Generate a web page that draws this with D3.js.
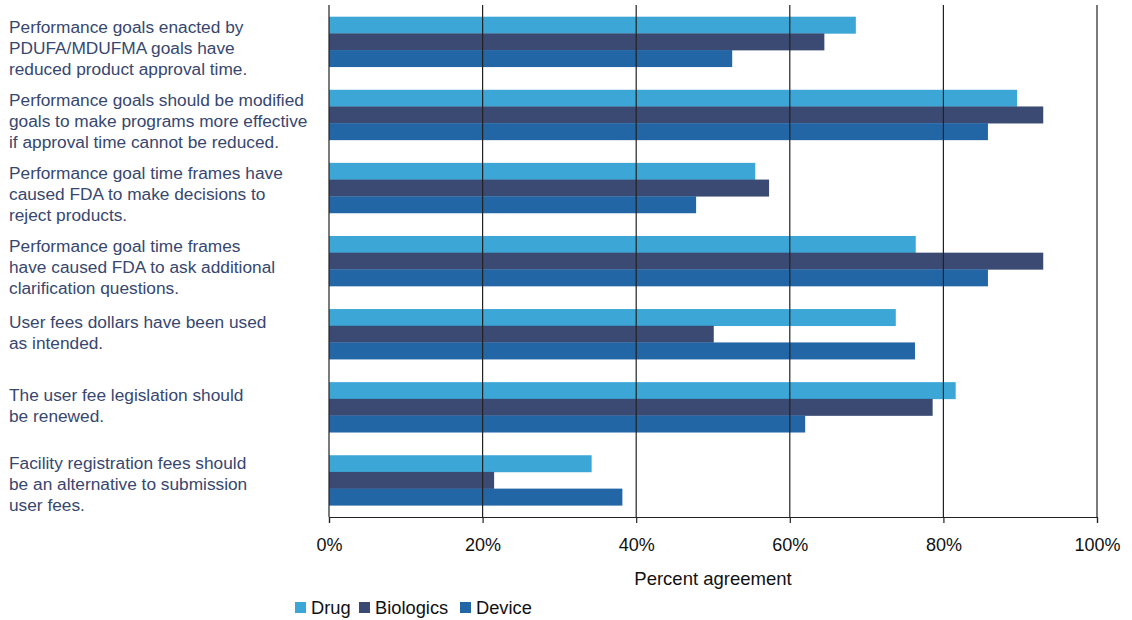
<!DOCTYPE html>
<meta charset="utf-8">
<style>
body { margin: 0; background: #fff; }
text { font-family: "Liberation Sans", Arial, sans-serif; }
.cat text { fill: #37476f; font-size: 17.3px; }
.legend text { fill: #111; font-size: 18.3px; }
</style>
<svg width="1132" height="620"></svg>
<script src="https://cdn.jsdelivr.net/npm/d3@7/dist/d3.min.js"></script>
<script>

var categories = [
  ["Performance goals enacted by", "PDUFA/MDUFMA goals have", "reduced product approval time."],
  ["Performance goals should be modified", "goals to make programs more effective", "if approval time cannot be reduced."],
  ["Performance goal time frames have", "caused FDA to make decisions to", "reject products."],
  ["Performance goal time frames", "have caused FDA to ask additional", "clarification questions."],
  ["User fees dollars have been used", "as intended."],
  ["The user fee legislation should", "be renewed."],
  ["Facility registration fees should", "be an alternative to submission", "user fees."]
];

var seriesNames = ["Drug", "Biologics", "Device"];
var drug      = [68.6, 89.6, 55.5, 76.4, 73.8, 81.6, 34.2];
var biologics = [64.5, 93.0, 57.3, 93.0, 50.1, 78.6, 21.5];
var device    = [52.5, 85.8, 47.8, 85.8, 76.3, 62.0, 38.2];
var ticks = [0, 20, 40, 60, 80, 100];
var colors = ["#3ca7d6", "#3a4a72", "#2366a6"];

var series = [drug, biologics, device];

var svg = d3.select("svg"),
    plotLeft = 329, plotRight = 1097, plotTop = 5, plotBottom = 517;

var x = d3.scaleLinear().domain([0, 100]).range([plotLeft, plotRight]);

var y = d3.scaleBand()
    .domain(d3.range(categories.length))
    .range([plotTop, plotBottom])
    .paddingInner(0.315)
    .paddingOuter(0.16);

var ySub = d3.scaleBand()
    .domain(d3.range(seriesNames.length))
    .range([0, y.bandwidth()]);

// bars
svg.append("g").selectAll("g")
    .data(series)
  .enter().append("g")
    .attr("fill", function(d, i) { return colors[i]; })
  .selectAll("rect")
    .data(function(d, i) { return d.map(function(v, j) { return {v: v, j: j, s: i}; }); })
  .enter().append("rect")
    .attr("x", x(0))
    .attr("y", function(d) { return y(d.j) + ySub(d.s); })
    .attr("width", function(d) { return x(d.v) - x(0); })
    .attr("height", ySub.bandwidth() + 0.3);

// grid lines
svg.append("g").selectAll("line")
    .data(ticks)
  .enter().append("line")
    .attr("x1", function(d) { return x(d); })
    .attr("x2", function(d) { return x(d); })
    .attr("y1", plotTop)
    .attr("y2", plotBottom)
    .attr("stroke", "#222")
    .attr("stroke-width", 1.2);

// x axis
var axis = svg.append("g")
    .attr("transform", "translate(0," + plotBottom + ")")
    .call(d3.axisBottom(x).tickValues(ticks).tickSize(6).tickPadding(15)
      .tickFormat(function(d) { return d + "%"; }));
axis.select(".domain").attr("stroke", "#222").attr("stroke-width", 1.2);
axis.selectAll(".tick line").attr("stroke", "#222").attr("stroke-width", 1.2);
axis.selectAll("text")
    .style("font-family", "'Liberation Sans', Arial, sans-serif")
    .style("font-size", "18px")
    .attr("fill", "#111");

svg.append("text")
    .attr("x", (plotLeft + plotRight) / 2)
    .attr("y", 585)
    .attr("text-anchor", "middle")
    .attr("fill", "#111")
    .style("font-size", "18.5px")
    .text("Percent agreement");

// category labels
var lineH = 21;
var cat = svg.append("g").attr("class", "cat").selectAll("text")
    .data(categories)
  .enter().append("text")
    .attr("x", 9)
    .attr("y", function(d, i) {
      var c = y(i) + y.bandwidth() / 2 + (d.length - 2) * 6;
      return c - (d.length - 1) * lineH / 2 + (i >= 4 ? 4 : 6);
    });
cat.selectAll("tspan")
    .data(function(d) { return d; })
  .enter().append("tspan")
    .attr("x", 9)
    .attr("dy", function(d, i) { return i ? lineH : 0; })
    .text(function(d) { return d; });

// legend
var legendX = [295, 359, 460];
var legend = svg.append("g").attr("class", "legend").selectAll("g")
    .data(seriesNames)
  .enter().append("g")
    .attr("transform", function(d, i) { return "translate(" + legendX[i] + ",602)"; });
legend.append("rect")
    .attr("width", 11)
    .attr("height", 11)
    .attr("fill", function(d, i) { return colors[i]; });
legend.append("text")
    .attr("x", 16)
    .attr("y", 12)
    .text(function(d) { return d; });

</script>
